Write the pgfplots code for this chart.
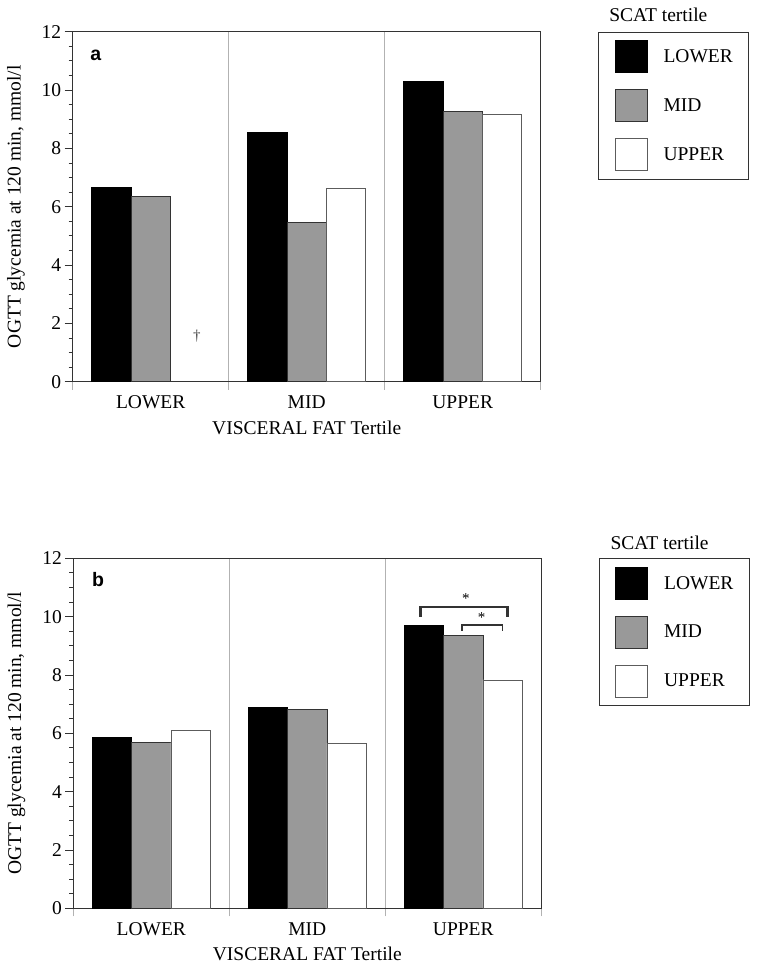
\documentclass[border=0pt]{standalone}
\usepackage{fontspec}
\setmainfont{Liberation Serif}
\newfontfamily\panelfont{Liberation Sans}
\usepackage{pgfplots}
\pgfplotsset{compat=1.18}

\newcommand\fs{\fontsize{19.5}{22}\selectfont}
\definecolor{midgray}{HTML}{999999}
\definecolor{frame}{HTML}{333333}

\pgfplotsset{
  sqleg/.style={legend image code/.code={\draw[##1,line width=1pt] (0pt,-16pt) rectangle (32pt,16pt);}},
  tertile/.style={
    scale only axis, width=468pt, height=350pt, clip=false,
    ybar, bar width=0.2524,
    xmin=-0.5, xmax=2.5, ymin=0, ymax=12,
    xtick={-0.5,0.5,1.5,2.5}, xticklabels={},
    extra x ticks={0,1,2}, extra x tick labels={LOWER,MID,UPPER},
    extra x tick style={major tick length=0pt, grid=none},
    xmajorgrids, grid style={gray!60, line width=0.9pt},
    ytick={0,2,...,12}, minor y tick num=3,
    xtick pos=bottom, ytick pos=left,
    tick align=outside, major tick length=8pt, minor tick length=4pt,
    xtick style={gray!60, line width=0.9pt},
    ytick style={frame, line width=0.8pt},
    axis line style={frame, line width=1.4pt},
    /pgf/number format/assume math mode=true,
    tick label style={font=\fs},
    xticklabel style={anchor=base, yshift=-26.8pt},
    yticklabel style={anchor=east},
    label style={font=\fs},
    xlabel={VISCERAL FAT Tertile},
    xlabel style={at={(axis description cs:0.5,0)}, anchor=base, yshift=-52.4pt},
    ylabel={OGTT glycemia at 120 min, mmol/l},
    ylabel style={at={(axis description cs:-0.1115,0.5)}, anchor=base, rotate=0},
    legend cell align=left,
    legend style={at={(1.1225,1)}, anchor=north west, draw=frame, line width=1pt,
      inner xsep=16pt, inner ysep=8pt, row sep=16pt, column sep=16pt,
      nodes={inner sep=0pt, font=\fs}},
  },
  blk/.style={fill=black, draw=black, line width=0.8pt, bar shift=-0.2524, sqleg},
  gry/.style={fill=midgray, draw=frame, line width=0.8pt, bar shift=0, sqleg},
  wht/.style={fill=white, draw=frame!80, line width=0.8pt, bar shift=0.2524, sqleg},
}

\begin{document}
\begin{tikzpicture}
\useasboundingbox (0,0) rectangle (756pt,974pt);

% panel a
\begin{axis}[tertile, at={(72.7pt,592.3pt)}, anchor=south west]
\addplot[blk] coordinates {(0,6.66) (1,8.55) (2,10.30)};
\addplot[gry] coordinates {(0,6.35) (1,5.46) (2,9.25)};
\addplot[wht] coordinates {(1,6.62) (2,9.18)};
\legend{LOWER,MID,UPPER}
\node[font=\panelfont\bfseries\fs] at (axis description cs:0.0492,0.932) {a};
\node[font=\fontsize{15}{17}\selectfont, text=black!75] at (axis cs:0.296,1.55) {†};
\node[font=\fs, anchor=base west] at (axis description cs:1.139,1.03) {SCAT tertile};
\end{axis}

% panel b
\begin{axis}[tertile, at={(73.3pt,65.7pt)}, anchor=south west]
\addplot[blk] coordinates {(0,5.85) (1,6.89) (2,9.69)};
\addplot[gry] coordinates {(0,5.69) (1,6.83) (2,9.37)};
\addplot[wht] coordinates {(0,6.09) (1,5.66) (2,7.83)};
\legend{LOWER,MID,UPPER}
\node[font=\panelfont\bfseries\fs] at (axis description cs:0.0527,0.938) {b};
\draw[frame, line width=2.2pt] (axis cs:1.725,10.0) -- (axis cs:1.725,10.34) -- (axis cs:2.283,10.34) -- (axis cs:2.283,10.0);
\draw[frame, line width=1.5pt] (axis cs:1.991,9.52) -- (axis cs:1.991,9.71) -- (axis cs:2.251,9.71) -- (axis cs:2.251,9.52);
\node[font=\fontsize{15}{17}\selectfont, yshift=-2pt] at (axis cs:2.017,10.68) {*};
\node[font=\fontsize{15}{17}\selectfont, yshift=-2pt] at (axis cs:2.117,10.05) {*};
\node[font=\fs, anchor=base west] at (axis description cs:1.1405,1.024) {SCAT tertile};
\end{axis}
\end{tikzpicture}
\end{document}
